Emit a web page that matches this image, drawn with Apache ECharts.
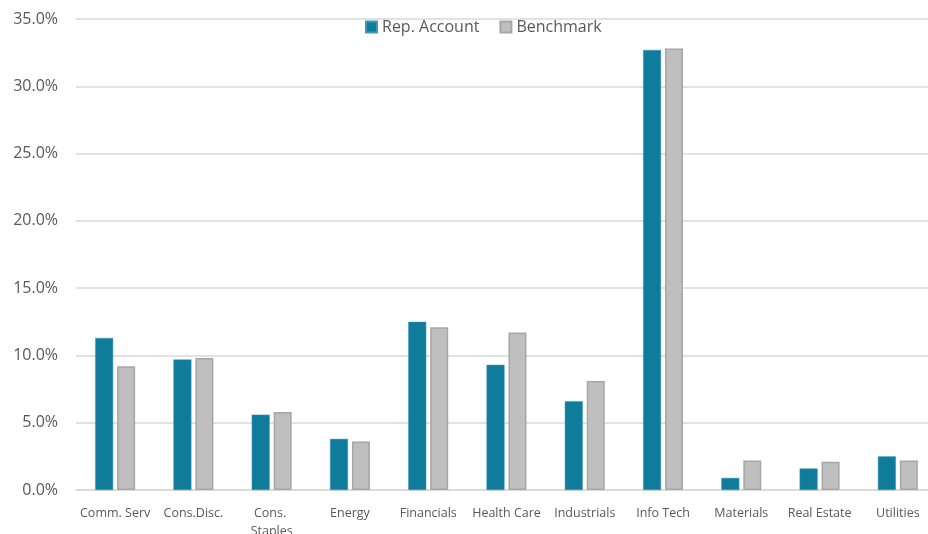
<!DOCTYPE html>
<html lang="en">

<head>
    <meta charset="UTF-8">
    <title>Sector Weights</title>
    <script src="https://cdn.jsdelivr.net/npm/echarts@6/dist/echarts.min.js"></script>
</head>

<body style="margin:0">
    <div id="main" style="width:928px;height:534px"></div>
    <script>
        var sectors = ['Comm. Serv', 'Cons.Disc.', 'Cons. Staples', 'Energy', 'Financials', 'Health Care',
            'Industrials', 'Info Tech', 'Materials', 'Real Estate', 'Utilities'];
        var repAccount = [11.3, 9.7, 5.6, 3.8, 12.5, 9.3, 6.6, 32.7, 0.9, 1.6, 2.5];
        var benchmark = [9.2, 9.8, 5.8, 3.6, 12.1, 11.7, 8.1, 32.8, 2.2, 2.1, 2.2];

        var myChart = echarts.init(document.getElementById('main'));
        var textColor = '#595959';
        var option = {
            animation: false,
            textStyle: { fontFamily: 'Open Sans' },
            legend: {
                top: 14,
                left: 360,
                icon: 'rect',
                itemWidth: 11,
                itemHeight: 11,
                itemGap: 20,
                textStyle: { color: textColor, fontSize: 16 },
                data: ['Rep. Account', 'Benchmark']
            },
            grid: { left: 76, top: 19, width: 861, height: 471, outerBoundsMode: 'none' },
            xAxis: {
                type: 'category',
                data: sectors,
                axisTick: { show: false },
                axisLine: { lineStyle: { color: '#D9D9D9', width: 1.5 } },
                axisLabel: {
                    color: textColor, fontSize: 12.5, margin: 14, interval: 0,
                    width: 72, overflow: 'break', lineHeight: 18
                }
            },
            yAxis: {
                type: 'value',
                min: 0,
                max: 35,
                interval: 5,
                axisLabel: {
                    color: textColor, fontSize: 16, margin: 18,
                    formatter: function (v) { return v.toFixed(1) + '%'; }
                },
                splitLine: { lineStyle: { color: '#D9D9D9', width: 1.5 } }
            },
            series: [
                {
                    name: 'Rep. Account',
                    type: 'bar',
                    data: repAccount,
                    barWidth: 18,
                    barGap: '22%',
                    itemStyle: { color: '#0E7C9A', borderColor: '#3E9AB5', borderWidth: 0.5 }
                },
                {
                    name: 'Benchmark',
                    type: 'bar',
                    data: benchmark,
                    barWidth: 18,
                    itemStyle: { color: '#BFBFBF', borderColor: '#A6A6A6', borderWidth: 1.5 }
                }
            ]
        };
        myChart.setOption(option);
    </script>
</body>

</html>
